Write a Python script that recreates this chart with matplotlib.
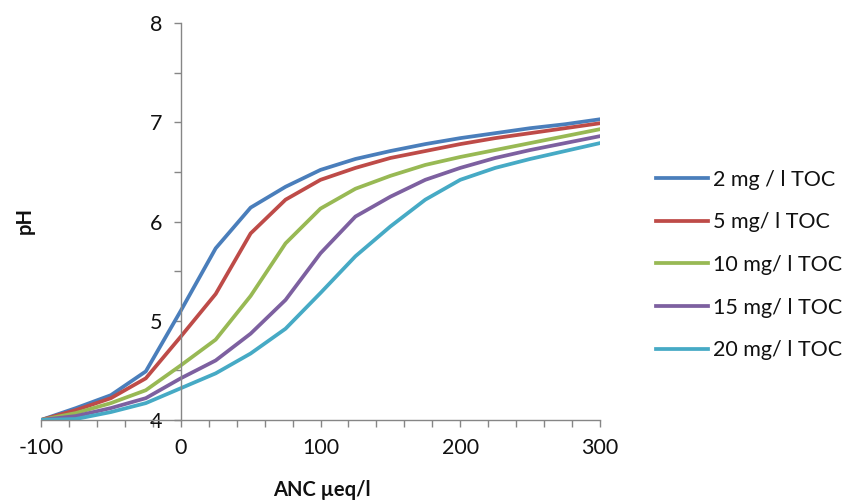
import matplotlib.pyplot as plt
from matplotlib.ticker import MultipleLocator

plt.rcParams['font.family'] = ['Lato', 'DejaVu Sans']
plt.rcParams['axes.unicode_minus'] = False

# ANC values (ueq/l) and pH for each TOC level
anc = [-100, -75, -50, -25, 0, 25, 50, 75, 100, 125, 150, 175, 200, 225, 250, 275, 300]
ph_2 = [4.0, 4.12, 4.25, 4.49, 5.10, 5.73, 6.14, 6.35, 6.52, 6.63, 6.71, 6.78, 6.84, 6.89, 6.94, 6.98, 7.03]
ph_5 = [4.0, 4.10, 4.22, 4.42, 4.84, 5.27, 5.88, 6.22, 6.42, 6.54, 6.64, 6.71, 6.78, 6.84, 6.89, 6.94, 6.99]
ph_10 = [4.0, 4.07, 4.17, 4.30, 4.55, 4.81, 5.25, 5.78, 6.13, 6.33, 6.46, 6.57, 6.65, 6.72, 6.79, 6.86, 6.93]
ph_15 = [4.0, 4.04, 4.12, 4.22, 4.42, 4.60, 4.87, 5.21, 5.68, 6.05, 6.25, 6.42, 6.54, 6.64, 6.72, 6.79, 6.86]
ph_20 = [4.0, 4.01, 4.08, 4.17, 4.32, 4.47, 4.67, 4.92, 5.28, 5.65, 5.95, 6.22, 6.42, 6.54, 6.63, 6.71, 6.79]

labels = ['2 mg / l TOC', '5 mg/ l TOC', '10 mg/ l TOC', '15 mg/ l TOC', '20 mg/ l TOC']
colors = ['#4A7EBB', '#BE4B48', '#98B954', '#7D60A0', '#46AAC5']

fig = plt.figure(figsize=(8.46, 5.04), dpi=100)
ax = fig.add_axes([41 / 846, 84 / 504, 559 / 846, 397 / 504])

for ph, lab, col in zip([ph_2, ph_5, ph_10, ph_15, ph_20], labels, colors):
    ax.plot(anc, ph, color=col, lw=2.7, label=lab, solid_joinstyle='round')

ax.set_xlim(-100, 300)
ax.set_ylim(4, 8)

# y axis crosses at ANC = 0
ax.spines['left'].set_position(('data', 0))
ax.spines['right'].set_visible(False)
ax.spines['top'].set_visible(False)
for s in ['left', 'bottom']:
    ax.spines[s].set_color('#868686')
    ax.spines[s].set_linewidth(1.0)

ax.xaxis.set_major_locator(MultipleLocator(100))
ax.xaxis.set_minor_locator(MultipleLocator(20))
ax.yaxis.set_major_locator(MultipleLocator(1))
ax.yaxis.set_minor_locator(MultipleLocator(0.5))
ax.tick_params(axis='both', which='both', direction='out', color='#868686',
               labelsize=15.5, labelcolor='#111111')
ax.tick_params(axis='both', which='major', length=5, width=1)
ax.tick_params(axis='both', which='minor', length=5, width=1)
ax.tick_params(axis='x', pad=8)
ax.tick_params(axis='y', pad=8)

fig.text(322 / 846, 1 - 490 / 504, 'ANC µeq/l', ha='center', va='center',
         fontsize=14.5, fontweight='bold', color='#111111')
fig.text(25 / 846, 1 - 221 / 504, 'pH', ha='center', va='center', rotation=90,
         fontsize=14.5, fontweight='bold', color='#111111')

leg = fig.legend(loc='center left', bbox_to_anchor=(656 / 846, 1 - 265 / 504),
                 frameon=False, fontsize=15.5, handlelength=2.4, handletextpad=0.25,
                 labelspacing=1.05, borderpad=0, borderaxespad=0)
for t in leg.get_texts():
    t.set_color('#111111')

fig.savefig('out.png', dpi=100)
